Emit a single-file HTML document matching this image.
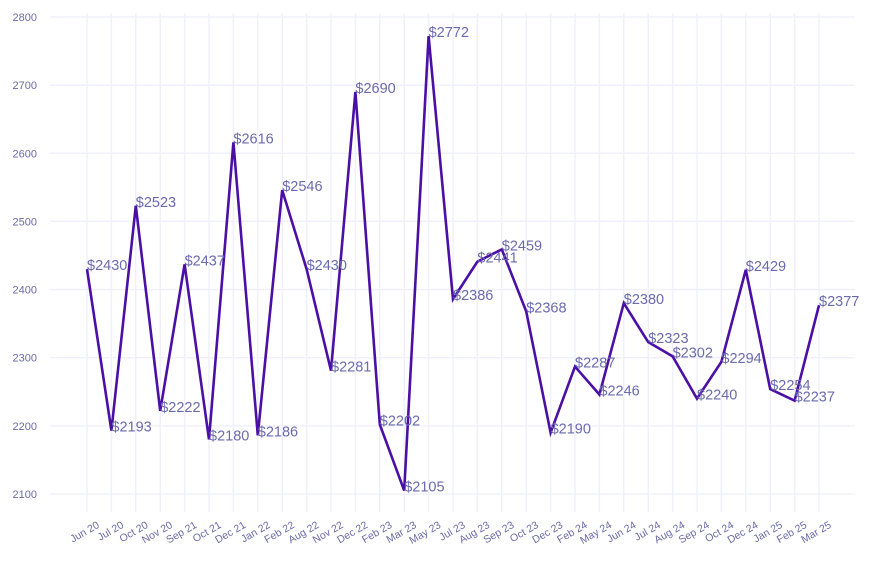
<!DOCTYPE html>
<html><head><meta charset="utf-8"><style>
body{margin:0;background:#fff;}
svg{display:block;font-family:"Liberation Sans",Arial,sans-serif;}
</style></head><body>
<svg id="chart" width="873" height="565" xmlns="http://www.w3.org/2000/svg">
<g id="grid"></g>
<g id="yaxis"></g>
<g id="xaxis"></g>
<g id="series"></g>
</svg>
<script>
const categories=["Jun 20","Jul 20","Oct 20","Nov 20","Sep 21","Oct 21","Dec 21","Jan 22","Feb 22","Aug 22","Nov 22","Dec 22","Feb 23","Mar 23","May 23","Jul 23","Aug 23","Sep 23","Oct 23","Dec 23","Feb 24","May 24","Jun 24","Jul 24","Aug 24","Sep 24","Oct 24","Dec 24","Jan 25","Feb 25","Mar 25"];
const values=[2430,2193,2523,2222,2437,2180,2616,2186,2546,2430,2281,2690,2202,2105,2772,2386,2441,2459,2368,2190,2287,2246,2380,2323,2302,2240,2294,2429,2254,2237,2377];
const yTicks=[2100,2200,2300,2400,2500,2600,2700,2800];
const NS="http://www.w3.org/2000/svg";
const x0=87,x1=819,yMin=2100,yMax=2800,py0=494,py1=17;
function xs(i){return x0+(x1-x0)*i/(categories.length-1);}
function ys(v){return py0+(v-yMin)*(py1-py0)/(yMax-yMin);}
function mk(t,a,p){const e=document.createElementNS(NS,t);for(const k in a)e.setAttribute(k,a[k]);p.appendChild(e);return e;}
const grid=document.getElementById('grid'),ya=document.getElementById('yaxis'),xa=document.getElementById('xaxis'),se=document.getElementById('series');
yTicks.forEach(v=>{
 const l=mk('line',{x1:50,x2:855,y1:ys(v),y2:ys(v),stroke:'#f0f0fb','stroke-width':1.5},grid);
 
 
 const t=mk('text',{x:37,y:ys(v)+4,'text-anchor':'end','font-size':11,fill:'#6a6aa8'},ya);
 t.textContent=v;
 
 
});
categories.forEach((c,i)=>{
 const x=xs(i);
 const l=mk('line',{x1:x,x2:x,y1:13,y2:512,stroke:'#f0f0fb','stroke-width':1.5},grid);
 
 
 const t=mk('text',{x:x+13,y:527,'text-anchor':'end','font-size':10.5,fill:'#6a6aa8',transform:`rotate(-30 ${x+13} 527)`},xa);
 t.textContent=c;
 
 
});
const pl=mk('polyline',{points:values.map((v,i)=>xs(i)+','+ys(v)).join(' '),fill:'none',stroke:'#4b0fa6','stroke-width':2.6,'stroke-linejoin':'miter'},se);


values.forEach((v,i)=>{
 const t=mk('text',{x:xs(i),y:ys(v)+1,'font-size':14.5,fill:'#6a6aae'},se);
 t.textContent='$'+v;
 
 
});
</script>
</body></html>
